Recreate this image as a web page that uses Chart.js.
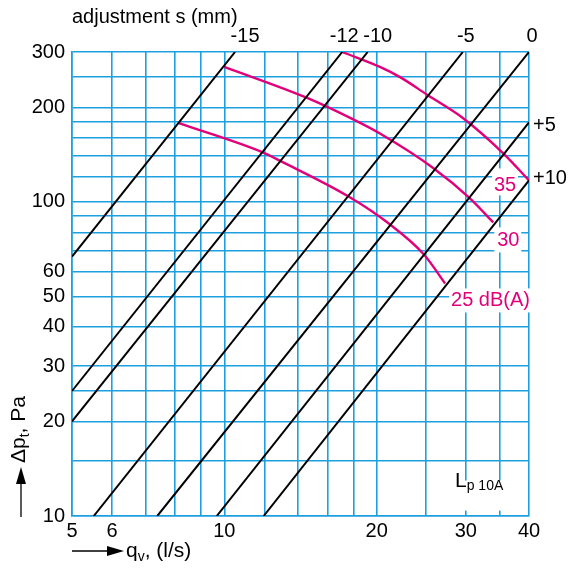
<!DOCTYPE html>
<html>
<head>
<meta charset="utf-8">
<script src="https://cdn.jsdelivr.net/npm/chart.js@4.4.1/dist/chart.umd.min.js"></script>
<style>
  html, body { margin: 0; padding: 0; background: #fff; }
  #wrap { width: 569px; height: 569px; }
</style>
</head>
<body>
<div id="wrap"><canvas id="chart" width="569" height="569"></canvas></div>
<script>
// ── Axis grid / tick values ─────────────────────────────
const xGrid   = [5, 6, 7, 8, 9, 10, 12, 14, 16, 18, 20, 25, 30, 35, 40];
const xLabels = [5, 6, 10, 20, 30, 40];
const yGrid   = [10, 15, 20, 25, 30, 40, 50, 60, 70, 80, 90, 100, 120, 140, 160, 180, 200, 250, 300];
const yLabels = [10, 20, 30, 40, 50, 60, 100, 200, 300];

// ── Damper settings, adjustment s (mm): [qv l/s, dpt Pa] ──
const adjNames = ['-15', '-12', '-10', '-5', '0', '+5', '+10'];
const adjM15 = [[5, 67], [10.5, 300]];
const adjM12 = [[5, 25], [17.1, 300]];
const adjM10 = [[5, 20], [19.2, 300]];
const adjM5  = [[5.52, 10], [29.6, 300]];
const adj0   = [[7.37, 10], [40, 300]];
const adjP5  = [[9.66, 10], [40, 179]];
const adjP10 = [[11.96, 10], [40, 117]];

// ── Sound level curves Lp10A, dB(A) ─────────────────────
const soundNames = ['35', '30', '25 dB(A)'];
const sound35 = [[17.1, 300], [20.3, 269], [22.2, 250], [25.2, 219], [29.6, 185], [35.7, 142], [40, 117]];
const sound30 = [[10.0, 269], [14.5, 215], [18.1, 182], [20.3, 165], [25.9, 128], [30.5, 103], [34.0, 86]];
const sound25 = [[8.13, 178], [12.0, 143], [12.9, 135], [17.6, 104], [21.2, 85], [24.8, 68], [27.3, 55]];

const BLUE = '#1ca0e0';
const PINK = '#e2007a';
const FONT = "'Liberation Sans', Arial, sans-serif";

const toPts = arr => arr.map(([x, y]) => ({ x, y }));

const adjSets = [adjM15, adjM12, adjM10, adjM5, adj0, adjP5, adjP10];
const soundSets = [sound35, sound30, sound25];

const datasets = [
  ...adjSets.map((d, i) => ({
    label: adjNames[i],
    data: toPts(d),
    showLine: true,
    borderColor: '#000',
    borderWidth: 2,
    pointRadius: 0,
  })),
  ...soundSets.map((d, i) => ({
    label: soundNames[i],
    data: toPts(d),
    showLine: true,
    borderColor: PINK,
    borderWidth: 2.4,
    pointRadius: 0,
    tension: 0.4,
    cubicInterpolationMode: 'monotone',
  })),
];

// draw a run of text pieces (for subscripts)
function drawRich(ctx, parts, x, y) {
  let cx = x;
  for (const p of parts) {
    ctx.font = `${p.size}px ${FONT}`;
    ctx.fillText(p.t, cx, y + (p.dy || 0));
    cx += ctx.measureText(p.t).width;
  }
}

const labelsPlugin = {
  id: 'labels',
  beforeDatasetsDraw(chart) {
    // white boxes that break the grid behind the labels
    const ctx = chart.ctx;
    ctx.save();
    ctx.fillStyle = '#fff';
    const xs = chart.scales.x, ys = chart.scales.y;
    const end = d => [xs.getPixelForValue(d[d.length - 1][0]), ys.getPixelForValue(d[d.length - 1][1])];
    let [x, y] = end(sound35); ctx.fillRect(x - 37, y - 12, 26, 27);
    [x, y] = end(sound30);     ctx.fillRect(x + 1, y + 5, 27, 25);
    [x, y] = end(sound25);     ctx.fillRect(x + 4, y + 5, 86, 24);
    ctx.fillRect(xs.getPixelForValue(29) - 1, ys.getPixelForValue(12.5) - 5, 50, 30);
    ctx.restore();
  },
  afterDraw(chart) {
    const ctx = chart.ctx;
    const xs = chart.scales.x, ys = chart.scales.y;
    const px = v => xs.getPixelForValue(v), py = v => ys.getPixelForValue(v);
    ctx.save();
    ctx.fillStyle = '#000';
    ctx.textBaseline = 'middle';

    // adjustment labels along the top edge
    ctx.font = `20px ${FONT}`;
    ctx.textAlign = 'center';
    const topDx = [10, 2, 10, 3, 3];
    for (let i = 0; i < 5; i++) {
      const d = adjSets[i][1];
      ctx.fillText(adjNames[i], px(d[0]) + topDx[i], 36);
    }
    // labels on the right edge
    ctx.textAlign = 'left';
    ctx.fillText(adjNames[5], px(adjP5[1][0]) + 4, py(adjP5[1][1]) + 3);
    ctx.fillText(adjNames[6], px(adjP10[1][0]) + 4, py(adjP10[1][1]) - 2);

    // sound level labels
    ctx.fillStyle = PINK;
    let e = sound35[sound35.length - 1];
    ctx.textAlign = 'center';
    ctx.fillText(soundNames[0], px(e[0]) - 24, py(e[1]) + 5);
    e = sound30[sound30.length - 1];
    ctx.fillText(soundNames[1], px(e[0]) + 15, py(e[1]) + 18);
    e = sound25[sound25.length - 1];
    ctx.textAlign = 'left';
    ctx.fillText(soundNames[2], px(e[0]) + 6, py(e[1]) + 17);

    // Lp10A
    ctx.fillStyle = '#000';
    ctx.textBaseline = 'alphabetic';
    drawRich(ctx, [
      { t: 'L', size: 21 },
      { t: 'p 10A', size: 14, dy: 3 },
    ], 455, 487);

    // top title
    ctx.font = `20px ${FONT}`;
    ctx.fillText('adjustment s (mm)', 72, 23);

    // x title with arrow
    ctx.strokeStyle = '#000';
    ctx.lineWidth = 1.3;
    ctx.beginPath(); ctx.moveTo(72, 551); ctx.lineTo(108, 551); ctx.stroke();
    ctx.beginPath(); ctx.moveTo(107, 546); ctx.lineTo(124, 551); ctx.lineTo(107, 556); ctx.closePath(); ctx.fill();
    drawRich(ctx, [
      { t: 'q', size: 21 },
      { t: 'v', size: 14, dy: 4 },
      { t: ', (l/s)', size: 21 },
    ], 126, 557);

    // y title with arrow
    ctx.beginPath(); ctx.moveTo(21, 517); ctx.lineTo(21, 482); ctx.stroke();
    ctx.beginPath(); ctx.moveTo(16, 484); ctx.lineTo(21, 467); ctx.lineTo(26, 484); ctx.closePath(); ctx.fill();
    ctx.translate(25, 463);
    ctx.rotate(-Math.PI / 2);
    drawRich(ctx, [
      { t: 'Δp', size: 21 },
      { t: 't', size: 14, dy: 4 },
      { t: ', Pa', size: 21 },
    ], 0, 0);
    ctx.restore();
  },
};

new Chart(document.getElementById('chart'), {
  type: 'scatter',
  data: { datasets },
  options: {
    responsive: false,
    animation: false,
    layout: { padding: { top: 52, right: 40, left: 0, bottom: 0 } },
    plugins: { legend: { display: false }, tooltip: { enabled: false } },
    scales: {
      x: {
        type: 'logarithmic',
        min: 5,
        max: 40,
        afterBuildTicks: s => { s.ticks = xGrid.map(v => ({ value: v })); },
        afterFit: s => { s.height = 53; },
        ticks: {
          autoSkip: false,
          maxRotation: 0,
          padding: 3,
          color: '#000',
          font: { family: FONT, size: 20 },
          callback: v => (xLabels.includes(v) ? String(v) : ''),
        },
        grid: { color: BLUE, lineWidth: 1.6, drawTicks: false },
        border: { color: BLUE, width: 1.6 },
      },
      y: {
        type: 'logarithmic',
        min: 10,
        max: 300,
        afterBuildTicks: s => { s.ticks = yGrid.map(v => ({ value: v })); },
        afterFit: s => { s.width = 72; },
        ticks: {
          autoSkip: false,
          padding: 7,
          color: '#000',
          font: { family: FONT, size: 20 },
          callback: v => (yLabels.includes(v) ? String(v) : ''),
        },
        grid: { color: BLUE, lineWidth: 1.6, drawTicks: false },
        border: { color: BLUE, width: 1.6 },
      },
    },
  },
  plugins: [labelsPlugin],
});
</script>
</body>
</html>
